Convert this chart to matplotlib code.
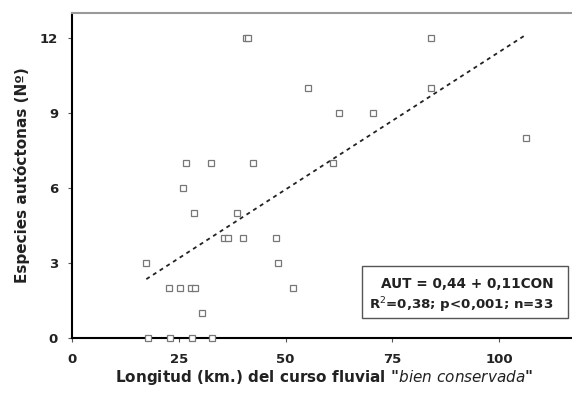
import matplotlib.pyplot as plt
from matplotlib.patches import Rectangle
import numpy as np

plt.rcParams['font.family'] = ['DejaVu Sans']
plt.rcParams['mathtext.fontset'] = 'custom'
plt.rcParams['mathtext.it'] = 'DejaVu Sans:italic'

# longitud del curso bien conservado (km) y especies autoctonas (N)
longitud = [40.8, 41.2, 84, 55.3, 84, 62.6, 70.4, 106.4,
            26.8, 32.5, 42.3, 61, 25.9, 28.5, 38.6,
            35.5, 36.5, 40, 47.8, 17.4, 48.2,
            22.8, 25.2, 27.8, 28.9, 51.8, 30.4,
            17.9, 23, 28, 32.7]
especies = [12, 12, 12, 10, 10, 9, 9, 8,
            7, 7, 7, 7, 6, 5, 5,
            4, 4, 4, 4, 3, 3,
            2, 2, 2, 2, 2, 1,
            0, 0, 0, 0]

# recta de regresion AUT = a + b*CON
fit_a = 0.44
fit_b = 0.11
fit_x = [17.4, 106]

x_ticks = [0, 25, 50, 75, 100]
y_ticks = [0, 3, 6, 9, 12]

fig = plt.figure(figsize=(5.72, 3.99), dpi=100)
ax = fig.add_axes([72 / 572, 61 / 399, 504 / 572, 325 / 399])

ax.plot(longitud, especies, linestyle='none', marker='s', markersize=5,
        markerfacecolor='white', markeredgecolor='#777777', markeredgewidth=0.9,
        clip_on=False, zorder=3)

fx = np.array(fit_x)
ax.plot(fx, fit_a + fit_b * fx, color='#222222', linestyle=(0, (2.2, 2.2)),
        linewidth=1.3, zorder=2)

ax.set_xlim(0, 118)
ax.set_ylim(0, 13)
ax.set_xticks(x_ticks)
ax.set_yticks(y_ticks)
ax.tick_params(axis='both', direction='out', length=3, width=0.8,
               color='#555555', labelsize=9.5, labelcolor='#222222')
for lab in ax.get_xticklabels() + ax.get_yticklabels():
    lab.set_fontweight('bold')
ax.tick_params(axis='x', pad=8)
ax.tick_params(axis='y', pad=7)

ax.spines['left'].set_linewidth(1.5)
ax.spines['bottom'].set_linewidth(1.5)
ax.spines['top'].set_linewidth(1.5)
ax.spines['top'].set_color('#999999')
ax.spines['right'].set_visible(False)

ax.set_xlabel('Longitud (km.) del curso fluvial "$\\it{bien\\ conservada}$"',
              fontsize=11, fontweight='bold', color='#222222', labelpad=1)
ax.set_ylabel('Especies autóctonas (Nº)', fontsize=11, fontweight='bold',
              color='#222222', labelpad=7)

ax.add_patch(Rectangle((0.575, 0.0615), 0.409, 0.16, transform=ax.transAxes,
                       facecolor='white', edgecolor='#555555', linewidth=1,
                       zorder=4))
ax.text(0.784, 0.166, 'AUT = 0,44 + 0,11CON', transform=ax.transAxes,
        ha='center', va='center', fontsize=9.8, fontweight='bold',
        color='#222222', zorder=5)
ax.text(0.772, 0.10, 'R$^2$=0,38; p<0,001; n=33', transform=ax.transAxes,
        ha='center', va='center', fontsize=9.6, fontweight='bold',
        color='#222222', zorder=5)

fig.savefig('out.png', dpi=100)
